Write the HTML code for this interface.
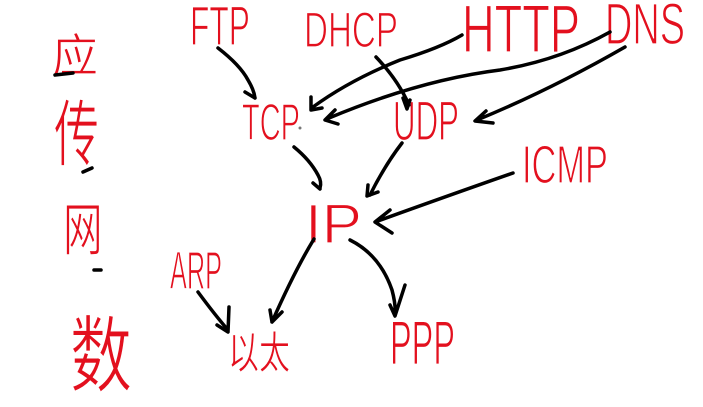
<!DOCTYPE html>
<html><head><meta charset="utf-8"><style>
html,body{margin:0;padding:0;background:#fff;}
svg{display:block;}
text{fill:#e3101e;stroke:#fff;stroke-width:1.3;paint-order:normal;font-family:"Liberation Sans Narrow","Liberation Sans","Noto Sans CJK SC",sans-serif;}
.c{font-family:"Noto Sans CJK SC","WenQuanYi Zen Hei",sans-serif;stroke-width:0.8;}
.a{fill:none;stroke:#000;stroke-width:3.5;stroke-linecap:round;stroke-linejoin:round;}
</style></head><body>
<svg width="703" height="407" viewBox="0 0 703 407" xmlns="http://www.w3.org/2000/svg">
<text class="c" x="52" y="72" font-size="46" textLength="46" lengthAdjust="spacingAndGlyphs">应</text>
<path class="a" d="M55 75 L73 73"/>
<text class="c" x="0" y="0" font-size="50" transform="translate(54,160) scale(0.9,1.45)">传</text>
<path class="a" d="M83 172 L92 168"/>
<text class="c" x="0" y="0" font-size="44" transform="translate(63,250) scale(0.9,1.3)">网</text>
<path class="a" d="M94 270 L101 270"/>
<text class="c" x="0" y="0" font-size="62" transform="translate(70,385) scale(1,1.35)">数</text>
<text x="190" y="45" font-size="56" textLength="60" lengthAdjust="spacingAndGlyphs">FTP</text>
<text x="304" y="47" font-size="50" textLength="94" lengthAdjust="spacingAndGlyphs">DHCP</text>
<text x="462" y="52" font-size="68" textLength="118" lengthAdjust="spacingAndGlyphs">HTTP</text>
<text x="605" y="44" font-size="58" textLength="80" lengthAdjust="spacingAndGlyphs">DNS</text>
<text x="242" y="140" font-size="52" textLength="58" lengthAdjust="spacingAndGlyphs">TCP</text>
<circle cx="300" cy="128" r="1.5" fill="#777"/>
<text x="393" y="140" font-size="56" textLength="66" lengthAdjust="spacingAndGlyphs">UDP</text>
<text x="522" y="183" font-size="54" textLength="86" lengthAdjust="spacingAndGlyphs">ICMP</text>
<text x="305" y="243" font-size="56" textLength="57" lengthAdjust="spacingAndGlyphs">IP</text>
<text x="170" y="289" font-size="54" textLength="52" lengthAdjust="spacingAndGlyphs">ARP</text>
<text class="c" x="228" y="368" font-size="44" textLength="62" lengthAdjust="spacingAndGlyphs">以太</text>
<text x="390" y="364" font-size="62" textLength="65" lengthAdjust="spacingAndGlyphs">PPP</text>
<path class="a" d="M218 48 Q240 65 248 80 Q254 90 255 98 M245 92 L255 98"/>
<path class="a" d="M376 57 Q398 80 409 105 M403 98 L407 109 L410 100"/>
<path class="a" d="M462 35 Q440 48 400 60 Q350 80 313 107 M311 97 L311 110 L322 108"/>
<path class="a" d="M610 32 Q560 60 500 70 Q420 80 329 118 M335 110 L325 120 L338 124"/>
<path class="a" d="M625 47 Q550 90 477 120 M486 111 L475 121 L493 123"/>
<path class="a" d="M294 147 Q310 160 318 175 Q322 182 320 188 M313 183 L320 189"/>
<path class="a" d="M402 143 Q385 165 370 195 M368 185 L367 196 L378 192"/>
<path class="a" d="M513 173 Q450 195 375 222 M390 210 L375 222 L392 233"/>
<path class="a" d="M314 239 Q295 270 272 322 M270 310 L272 322 L282 312"/>
<path class="a" d="M350 240 Q380 255 392 290 Q396 305 395 315 M390 305 L395 316 L405 285"/>
<path class="a" d="M198 292 Q215 315 228 330 M217 325 L228 332 L229 307"/>
</svg>
</body></html>
